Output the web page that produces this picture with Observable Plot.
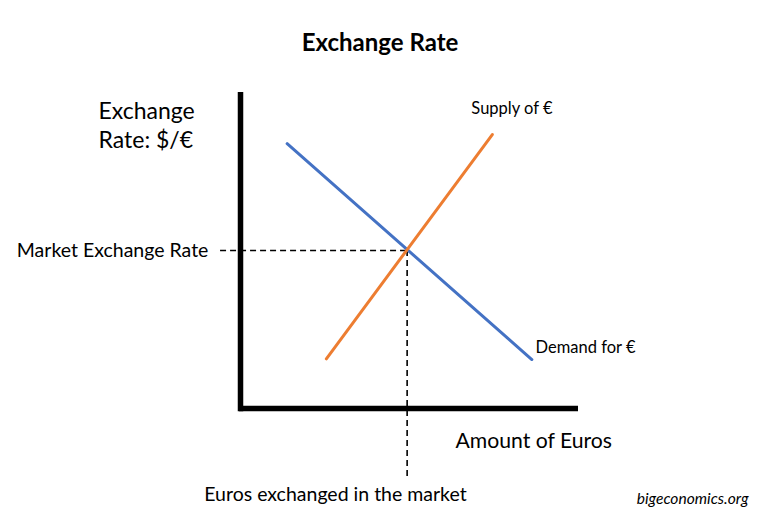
<!DOCTYPE html>
<html>
<head>
<meta charset="utf-8">
<script src="https://cdn.jsdelivr.net/npm/d3@7"></script>
<script src="https://cdn.jsdelivr.net/npm/@observablehq/plot@0.6"></script>
<style>
  html, body { margin: 0; padding: 0; background: #fff; }
  #title { box-sizing: border-box; width: 760px; height: 70px; padding-top: 28px;
           text-align: center; font-family: Lato, sans-serif; font-weight: bold;
           font-size: 24px; line-height: 1.2; color: #000; }
  #chart svg { display: block; }
</style>
</head>
<body>
<div id="title">Exchange Rate</div>
<div id="chart"></div>
<script>
// Demand and supply curves (abstract units: 0–10 on each axis)
const demandX = [1.38, 8.62];
const demandY = [8.38, 1.55];
const supplyX = [2.54, 7.45];
const supplyY = [1.57, 8.67];
// Market equilibrium
const eqX = 4.93;
const eqY = 5.0;

const demand = demandX.map((x, i) => ({x, y: demandY[i]}));
const supply = supplyX.map((x, i) => ({x, y: supplyY[i]}));

const font = "Lato, sans-serif";

const chart = Plot.plot({
  width: 768,
  height: 454,
  style: {fontFamily: font, background: "#fff", overflow: "visible"},
  x: {domain: [0, 10], range: [240, 578], axis: null},
  y: {domain: [0, 10], range: [338, 22], axis: null},
  marks: [
    // equilibrium dashed guides
    Plot.ruleY([eqY], {x1: -0.59, x2: eqX, stroke: "#000", strokeWidth: 1.6, strokeDasharray: "6,4"}),
    Plot.ruleX([eqX], {y1: eqY, y2: -2.18, stroke: "#000", strokeWidth: 1.6, strokeDasharray: "6,4"}),
    // axes
    Plot.ruleX([0], {y1: -0.1, y2: 10.0, stroke: "#000", strokeWidth: 5.5}),
    Plot.ruleY([0], {x1: -0.03, x2: 10.0, stroke: "#000", strokeWidth: 5.5}),
    // curves
    Plot.line(demand, {x: "x", y: "y", stroke: "#4472C4", strokeWidth: 3}),
    Plot.line(supply, {x: "x", y: "y", stroke: "#ED7D31", strokeWidth: 3}),
    // labels
    Plot.text(["Exchange\nRate: $/€"], {x: -4.2, y: 9.0, textAnchor: "start", lineHeight: 1.28, fontSize: 23, fill: "#000"}),
    Plot.text(["Market Exchange Rate"], {x: -0.95, y: eqY, textAnchor: "end", fontSize: 19.5, fill: "#000"}),
    Plot.text(["Supply of €"], {x: 6.83, y: 9.48, textAnchor: "start", fontSize: 16.5, fill: "#000"}),
    Plot.text(["Demand for €"], {x: 8.73, y: 1.93, textAnchor: "start", fontSize: 16.5, fill: "#000"}),
    Plot.text(["Amount of Euros"], {x: 6.36, y: -1.03, textAnchor: "start", fontSize: 21.2, fill: "#000"}),
    Plot.text(["Euros exchanged in the market"], {x: 2.81, y: -2.72, fontSize: 19.5, fill: "#000"}),
    Plot.text(["bigeconomics.org"], {x: 15.03, y: -2.85, textAnchor: "end", fontSize: 15.6, fontStyle: "italic", fill: "#000"})
  ]
});
document.getElementById("chart").append(chart);
</script>
</body>
</html>
